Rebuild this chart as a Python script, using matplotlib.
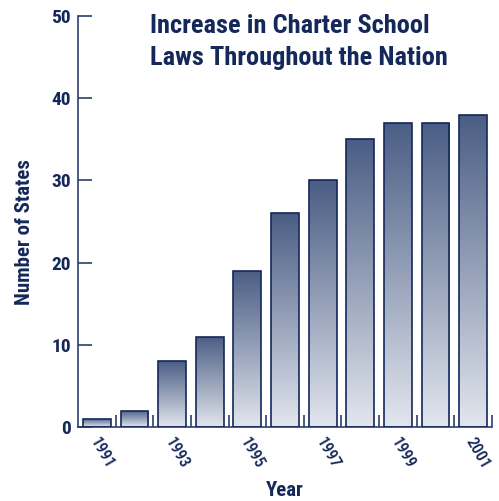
import numpy as np
import matplotlib

matplotlib.use('Agg')

from matplotlib import pyplot as plt
from matplotlib.colors import LinearSegmentedColormap

##### Data #####
years  = [1991, 1992, 1993, 1994, 1995, 1996, 1997, 1998, 1999, 2000, 2001]
states = [1, 2, 8, 11, 19, 26, 30, 35, 37, 37, 38]
label_years = [1991, 1993, 1995, 1997, 1999, 2001]

NAVY = '#14285a'
AXIS = '#2c3e70'
FONT = ['Roboto Condensed', 'Archivo Narrow', 'DejaVu Sans']

plt.rcParams['font.family'] = FONT

fig = plt.figure(figsize=(4.99, 5.01), dpi=100)
ax = fig.add_axes([0.1563, 0.1477, 0.8297, 0.8204])

cmap = LinearSegmentedColormap.from_list('bar', ['#e2e6ee', '#4a5d84'])
grad = np.linspace(0, 1, 256).reshape(-1, 1)

x = np.arange(len(years))
bars = ax.bar(x, states, width=0.74, color='none', edgecolor=NAVY, linewidth=1.2, zorder=3)
for b in bars:
    x0, y0 = b.get_x(), b.get_y()
    w, h = b.get_width(), b.get_height()
    im = ax.imshow(grad, cmap=cmap, aspect='auto', origin='lower',
                   extent=[x0, x0 + w, y0, y0 + h], zorder=2)
    im.set_clip_path(b)

ax.set_xlim(-0.5, len(years) - 0.5)
ax.set_ylim(0, 50)

##### Axes styling #####
for s in ['top', 'right']:
    ax.spines[s].set_visible(False)
for s in ['left', 'bottom']:
    ax.spines[s].set_color(AXIS)
    ax.spines[s].set_linewidth(1.2)

ax.set_yticks([0, 10, 20, 30, 40, 50])
ax.tick_params(axis='y', direction='in', length=10, width=1.2, color=AXIS,
               labelsize=14, labelcolor=NAVY, pad=5)
for t in ax.get_yticklabels():
    t.set_fontweight('bold')

# small inner ticks at slot boundaries, labels at odd years
ax.set_xticks(x + 0.5)
ax.set_xticklabels([])
ax.tick_params(axis='x', direction='in', length=9, width=1.2, color=AXIS)
for yr in label_years:
    i = years.index(yr)
    ax.text(i + 0.13, -1.0, str(yr), rotation=-60, ha='center', va='top',
            fontsize=12, fontweight='medium', color=NAVY)

fig.text(25 / 499, 1 - 232 / 501, 'Number of States', rotation=90, ha='center', va='center',
         fontsize=15, fontweight='bold', color=NAVY)
fig.text(285 / 499, 1 - 491 / 501, 'Year', ha='center', va='center',
         fontsize=15, fontweight='bold', color=NAVY)

fig.text(150 / 499, 1 - 14 / 501, 'Increase in Charter School\nLaws Throughout the Nation',
         ha='left', va='top', fontsize=19, multialignment='left',
         fontweight='bold', color=NAVY, linespacing=1.42)

fig.savefig('out.png', dpi=100)
